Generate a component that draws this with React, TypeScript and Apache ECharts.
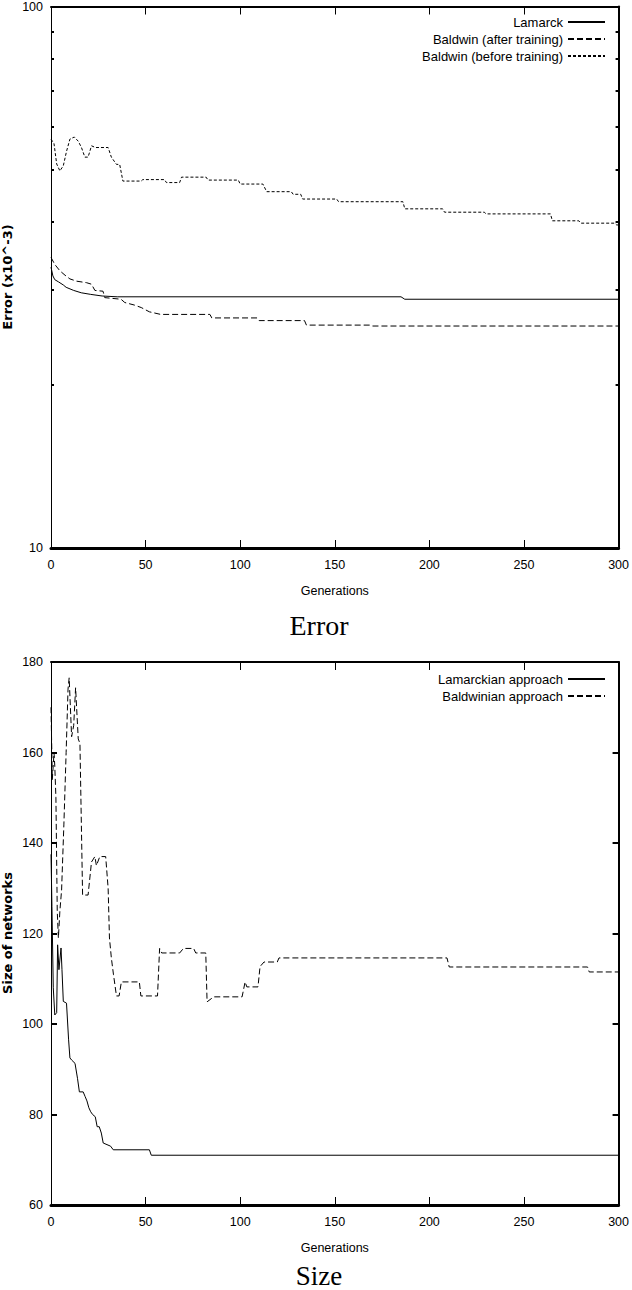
import React, { useEffect, useRef } from "react";
import * as echarts from "echarts";

// ---------- data ----------
const genRange = [0, 300];
const genInterval = 50;
const errorRange = [10, 100];
const errorMinorTicks = [20, 30, 40, 50, 60, 70, 80, 90];
const sizeRange = [60, 180];
const sizeInterval = 20;
const sizeTicks = [80, 100, 120, 140, 160];

const errorSeriesNames = ["Lamarck", "Baldwin (after training)", "Baldwin (before training)"];
const sizeSeriesNames = ["Lamarckian approach", "Baldwinian approach"];

const lamarckErrGen = [0, 1, 2, 4, 6.5, 8, 12, 16, 21, 27, 35, 185, 187, 300];
const lamarckErr = [33.0, 31.8, 31.3, 31.0, 30.6, 30.3, 29.9, 29.6, 29.4, 29.2, 29.1, 29.1, 28.8, 28.8];

const baldAfterGen = [0, 2, 4.7, 7.4, 10, 13.5, 18.8, 21.4, 23.2, 27.5, 28.4, 37, 39, 44, 47.7, 52, 58, 84, 85, 109, 110, 134, 135, 169, 170, 300];
const baldAfterErr = [34.4, 33.4, 32.5, 31.9, 31.4, 31.1, 30.9, 30.7, 29.9, 29.8, 29.0, 28.8, 28.4, 28.1, 27.8, 27.3, 27.0, 27.0, 26.6, 26.6, 26.3, 26.3, 25.8, 25.8, 25.7, 25.7];

const baldBeforeGen = [0, 1.6, 3, 4.7, 6.5, 8.2, 10, 12.3, 14.4, 16.1, 17.9, 19.6, 21.4, 23.5, 30.2, 31.9, 34.6, 36.3, 38, 47.7, 48.5, 60, 61, 68, 69, 82, 83, 99, 100, 112, 114, 127, 128, 132, 133, 151, 152, 186, 187, 207, 208, 229, 230, 264, 265, 279, 280, 298, 299, 300];
const baldBeforeErr = [56.9, 55.8, 51.2, 49.7, 50.8, 54.0, 56.9, 57.4, 56.4, 54.9, 52.7, 52.7, 55.3, 54.9, 54.9, 52.7, 51.1, 51.1, 47.6, 47.6, 47.9, 47.9, 47.3, 47.3, 48.4, 48.4, 47.8, 47.8, 47.0, 47.0, 45.5, 45.5, 45.0, 45.0, 44.1, 44.1, 43.6, 43.6, 42.3, 42.3, 41.7, 41.7, 41.4, 41.4, 40.2, 40.2, 39.8, 39.8, 39.5, 39.5];

const lamarckSizeGen = [0, 0.5, 1.2, 2, 3, 3.5, 4.2, 5.3, 5.8, 6.5, 8.2, 9.3, 10, 11, 12.7, 14, 15, 17, 18, 19, 20, 21, 22, 23.4, 24.4, 25.5, 26.6, 27.6, 31.5, 32.9, 52, 53, 300];
const lamarckSize = [137.5, 126, 108, 102, 102.5, 117.5, 112, 116.8, 112, 105, 104.6, 96.5, 92.5, 92, 91.3, 88, 85, 85, 84, 83, 81.5, 80.6, 80, 79.5, 77.3, 77.3, 75.9, 73.7, 73.0, 72.2, 72.2, 71, 71];

const baldSizeGen = [0, 0.7, 1.6, 2, 2.6, 3.3, 3.9, 4.7, 5.6, 6.8, 8, 9, 9.6, 10.9, 12, 13, 14.4, 15.3, 16.7, 19.6, 21.4, 23.2, 24, 25.8, 28.9, 30.2, 30.9, 31.9, 33, 34.6, 36, 37.2, 46.7, 47.5, 56.3, 57.4, 58.5, 68, 70, 75.4, 76.5, 81.8, 82.5, 86, 101, 102.6, 103.5, 109.4, 110.5, 112.6, 119.6, 120.5, 209.3, 210.5, 283.6, 284.5, 300];
const baldSize = [170, 154, 160, 157, 150, 125, 119, 125, 129.6, 144, 160, 174, 176.5, 163.5, 166, 174.3, 163, 162, 128.5, 128.5, 135.8, 137, 135, 137, 137, 130, 119, 114.6, 111, 106.2, 106.2, 109.3, 109.3, 106.2, 106.2, 116.7, 115.7, 115.7, 116.7, 116.7, 115.7, 115.7, 104.9, 106, 106, 109.3, 108.2, 108.2, 112.7, 113.7, 113.7, 114.6, 114.6, 112.6, 112.6, 111.5, 111.5];

// ---------- styling ----------
const SANS = "'Liberation Sans', Arial, Helvetica, sans-serif";
const SERIF = "'Liberation Serif', 'Times New Roman', serif";
const BLACK = "#000";

const zip = (xs: number[], ys: number[]) => xs.map((x, i) => [x, ys[i]]);

function xAxes(gridIndex: number) {
  const common = {
    gridIndex,
    type: "value" as const,
    min: genRange[0],
    max: genRange[1],
    interval: genInterval,
    splitLine: { show: false },
  };
  return [
    {
      ...common,
      position: "bottom",
      axisLine: { onZero: false, lineStyle: { color: BLACK, width: 3 } },
      axisTick: { inside: true, length: 8, lineStyle: { color: BLACK, width: 1 } },
      axisLabel: { margin: 10, fontSize: 12.5, color: BLACK, fontFamily: SANS },
      name: "Generations",
      nameLocation: "middle",
      nameGap: 36,
      nameTextStyle: { fontSize: 12.5, color: BLACK, fontFamily: SANS },
    },
    {
      ...common,
      position: "top",
      axisLine: { onZero: false, lineStyle: { color: BLACK, width: 2 } },
      axisTick: { inside: true, length: 8, lineStyle: { color: BLACK, width: 1 } },
      axisLabel: { show: false },
    },
  ];
}

function lineSeries(name: string, xi: number, yi: number, gens: number[], vals: number[], type: any) {
  return {
    type: "line",
    name,
    xAxisIndex: xi,
    yAxisIndex: yi,
    data: zip(gens, vals),
    symbol: "none",
    showSymbol: false,
    silent: true,
    itemStyle: { color: BLACK },
    lineStyle: { color: BLACK, width: 1, type },
  };
}

function legend(names: string[], top: number) {
  return {
    data: names,
    orient: "vertical",
    align: "right",
    right: 26,
    top,
    padding: 0,
    icon: "inherit",
    itemWidth: 37,
    itemHeight: 14,
    itemGap: 3,
    selectedMode: false,
    itemStyle: { opacity: 0 },
    textStyle: { fontSize: 13, lineHeight: 14, color: BLACK, fontFamily: SANS },
  };
}

export default function App() {
  const ref = useRef<HTMLDivElement>(null);

  useEffect(() => {
    if (!ref.current) return;
    const chart = echarts.init(ref.current, null, { renderer: "svg" });

    const grid = [
      { left: 51, top: 5, width: 569, height: 543 },
      { left: 51, top: 662, width: 569, height: 543 },
    ];

    const logCommon = {
      gridIndex: 0,
      type: "log" as const,
      logBase: 10,
      min: errorRange[0],
      max: errorRange[1],
      splitLine: { show: false },
      axisTick: {
        inside: true,
        length: 3,
        customValues: errorMinorTicks,
        lineStyle: { color: BLACK, width: 2 },
      },
    };
    const sizeCommon = {
      gridIndex: 1,
      type: "value" as const,
      min: sizeRange[0],
      max: sizeRange[1],
      interval: sizeInterval,
      splitLine: { show: false },
      axisTick: {
        inside: true,
        length: 6,
        customValues: sizeTicks,
        lineStyle: { color: BLACK, width: 2 },
      },
    };

    const option: any = {
      animation: false,
      backgroundColor: "#fff",
      grid,
      xAxis: [...xAxes(0), ...xAxes(1)],
      yAxis: [
        {
          ...logCommon,
          position: "left",
          axisLine: { onZero: false, lineStyle: { color: BLACK, width: 1 } },
          axisLabel: { margin: 8, fontSize: 12.5, color: BLACK, fontFamily: SANS },
        },
        {
          ...logCommon,
          position: "right",
          axisLine: { onZero: false, lineStyle: { color: BLACK, width: 2 } },
          axisLabel: { show: false },
        },
        {
          ...sizeCommon,
          position: "left",
          axisLine: { onZero: false, lineStyle: { color: BLACK, width: 1 } },
          axisLabel: { margin: 8, fontSize: 12.5, color: BLACK, fontFamily: SANS },
        },
        {
          ...sizeCommon,
          position: "right",
          axisLine: { onZero: false, lineStyle: { color: BLACK, width: 2 } },
          axisLabel: { show: false },
        },
      ],
      legend: [legend(errorSeriesNames, 15), legend(sizeSeriesNames, 672)],
      series: [
        lineSeries(errorSeriesNames[0], 0, 0, lamarckErrGen, lamarckErr, "solid"),
        lineSeries(errorSeriesNames[1], 0, 0, baldAfterGen, baldAfterErr, [6, 3]),
        lineSeries(errorSeriesNames[2], 0, 0, baldBeforeGen, baldBeforeErr, [3, 2]),
        lineSeries(sizeSeriesNames[0], 2, 2, lamarckSizeGen, lamarckSize, "solid"),
        lineSeries(sizeSeriesNames[1], 2, 2, baldSizeGen, baldSize, [6, 3]),
      ],
      graphic: [
        {
          type: "text",
          x: 7,
          y: 277,
          rotation: Math.PI / 2,
          style: {
            text: "Error (x10^-3)",
            align: "center",
            verticalAlign: "middle",
            fontFamily: "'DejaVu Sans', sans-serif",
            fontWeight: "bold",
            fontSize: 13,
            fill: BLACK,
          },
        },
        {
          type: "text",
          x: 7,
          y: 933,
          rotation: Math.PI / 2,
          style: {
            text: "Size of networks",
            align: "center",
            verticalAlign: "middle",
            fontFamily: "'DejaVu Sans', sans-serif",
            fontWeight: "bold",
            fontSize: 13,
            fill: BLACK,
          },
        },
        {
          type: "text",
          x: 319,
          y: 625,
          style: {
            text: "Error",
            align: "center",
            verticalAlign: "middle",
            fontFamily: SERIF,
            fontSize: 28,
            fill: BLACK,
          },
        },
        {
          type: "text",
          x: 319,
          y: 1289,
          style: {
            text: "Size",
            align: "center",
            verticalAlign: "bottom",
            fontFamily: SERIF,
            fontSize: 27,
            fill: BLACK,
          },
        },
      ],
    };

    chart.setOption(option);
    return () => chart.dispose();
  }, []);

  return (
    <div
      ref={ref}
      style={{ position: "absolute", left: 0, top: 0, width: 632, height: 1290, background: "#fff" }}
    />
  );
}
